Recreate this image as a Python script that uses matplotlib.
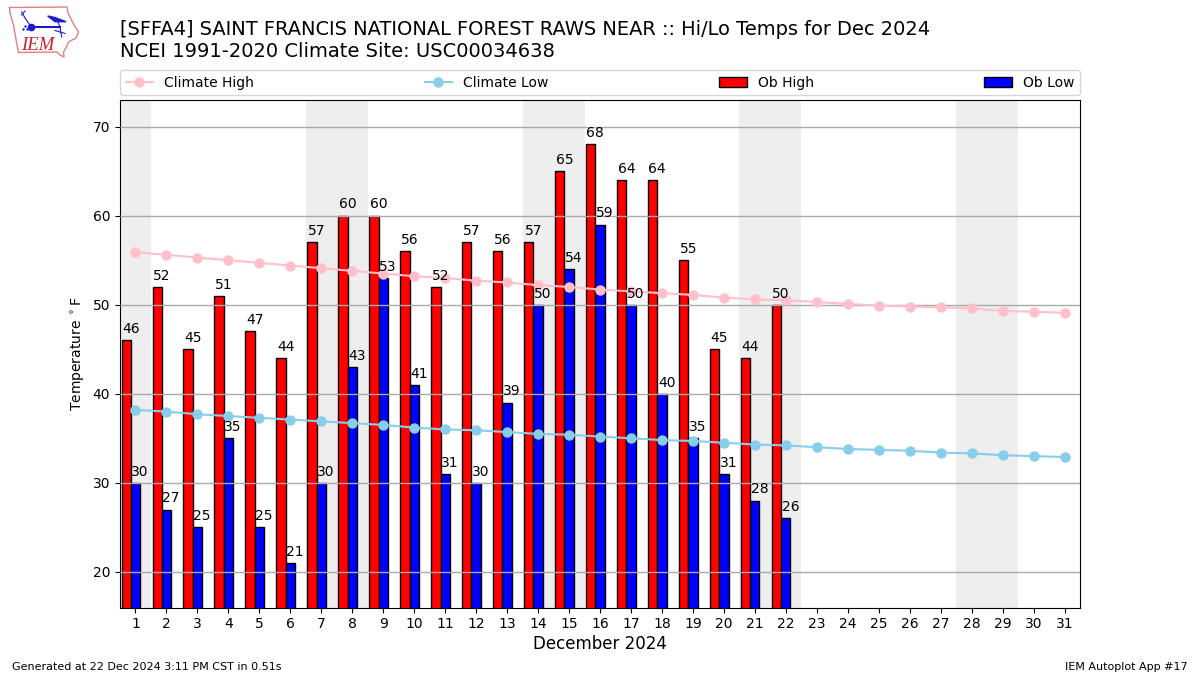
import matplotlib
matplotlib.use("Agg")
import matplotlib.pyplot as plt
import numpy as np

days = list(range(1, 32))
ob_high = [46, 52, 45, 51, 47, 44, 57, 60, 60, 56, 52, 57, 56, 57, 65, 68, 64, 64, 55, 45, 44, 50]
ob_low = [30, 27, 25, 35, 25, 21, 30, 43, 53, 41, 31, 30, 39, 50, 54, 59, 50, 40, 35, 31, 28, 26]
climate_high = [55.9, 55.6, 55.3, 55.0, 54.7, 54.4, 54.1, 53.8, 53.5, 53.2, 53.0, 52.7, 52.5, 52.2, 52.0, 51.7,
                51.5, 51.3, 51.1, 50.8, 50.6, 50.5, 50.3, 50.1, 49.9, 49.8, 49.7, 49.6, 49.3, 49.2, 49.1]
climate_low = [38.2, 38.0, 37.7, 37.5, 37.3, 37.1, 36.9, 36.7, 36.5, 36.2, 36.0, 35.9, 35.7, 35.5, 35.4, 35.2,
               35.0, 34.8, 34.7, 34.5, 34.3, 34.2, 34.0, 33.8, 33.7, 33.6, 33.4, 33.3, 33.1, 33.0, 32.9]
weekends = [(0.5, 1.5), (6.5, 8.5), (13.5, 15.5), (20.5, 22.5), (27.5, 29.5)]

iowa_x = [9.5, 67, 68, 74, 78.5, 76, 68.5, 66.5, 63.5, 64, 60, 57, 18.5, 16.5, 13.5, 10, 9.5]
iowa_y = [7.5, 7, 13, 25, 32, 38, 42, 47, 52, 57, 55, 52, 52.5, 42, 25, 13, 7.5]


def draw_logo(fig):
    # small overlay in pixel coordinates of the picture
    lax = fig.add_axes([0, 1 - 62 / 675, 90 / 1200, 62 / 675])
    lax.set_xlim(0, 90)
    lax.set_ylim(62, 0)
    lax.axis("off")
    lax.plot(iowa_x, iowa_y, color="#e08080", lw=1)
    blue = "#1a1ad0"
    lax.plot([31, 60], [26.7, 26.7], color=blue, lw=1.5)
    lax.plot([31], [26.7], "o", color=blue, ms=4.5)
    lax.plot([31, 25, 21.7], [26.7, 18, 12], color=blue, lw=0.8)
    lax.plot([21.5, 25], [15, 11], color=blue, lw=0.8)
    lax.fill([47.7, 55, 66, 55], [16, 17.5, 21.7, 21.7], color=blue)
    lax.plot([58, 60, 61.7], [22, 27, 37], color=blue, lw=0.8)
    lax.plot([55, 65], [30.5, 33.5], color=blue, lw=0.8)
    lax.plot([23, 25, 27], [29, 26, 29], ".", color=blue, ms=1.5)
    lax.text(37.5, 45, "IEM", color="#d02030", fontsize=13.5, family="Liberation Serif",
             style="italic", ha="center", va="center")


def plot_month():
    fig = plt.figure(figsize=(12, 6.75), dpi=100)
    ax = fig.add_axes([0.1, 0.1, 0.8, 0.752])

    for start, end in weekends:
        ax.axvspan(start, end, color="#eeeeee", lw=0, zorder=0)

    high_days = np.array(days[:len(ob_high)])
    low_days = np.array(days[:len(ob_low)])
    ax.bar(high_days - 0.3, ob_high, width=0.3, color="red", edgecolor="k", linewidth=1,
           label="Ob High", zorder=2)
    ax.bar(low_days, ob_low, width=0.3, color="blue", edgecolor="k", linewidth=1,
           label="Ob Low", zorder=2)
    ax.grid(axis="y", color="#aaaaaa", linewidth=1, zorder=3)
    ax.set_axisbelow(False)

    ax.plot(days, climate_high, "-o", color="pink", ms=6.5, label="Climate High", zorder=4)
    ax.plot(days, climate_low, "-o", color="skyblue", ms=6.5, label="Climate Low", zorder=4)

    for day, val in zip(high_days, ob_high):
        ax.text(day - 0.15, val + 0.47, str(val), ha="center", va="bottom", fontsize=10, zorder=5)
    for day, val in zip(low_days, ob_low):
        ax.text(day + 0.15, val + 0.47, str(val), ha="center", va="bottom", fontsize=10, zorder=5)

    ax.set_xlim(0.5, 31.5)
    ax.set_ylim(16, 73)
    ax.set_xticks(days)
    ax.set_yticks(range(20, 71, 10))
    ax.set_xlabel("December 2024", fontsize=12, labelpad=3)
    ax.set_ylabel(r"Temperature $^\circ$F")

    handles, labels = ax.get_legend_handles_labels()
    order = [labels.index(n) for n in ["Climate High", "Climate Low", "Ob High", "Ob Low"]]
    ax.legend([handles[i] for i in order], [labels[i] for i in order], ncol=4, mode="expand",
              loc="lower left", bbox_to_anchor=(0, 1.0095, 1, 0.05), borderaxespad=0, fontsize=10)

    fig.text(120 / 1200, 1 - 35 / 675, "[SFFA4] SAINT FRANCIS NATIONAL FOREST RAWS NEAR :: Hi/Lo Temps for Dec 2024",
             fontsize=13.97, ha="left", va="baseline")
    fig.text(120 / 1200, 1 - 57 / 675, "NCEI 1991-2020 Climate Site: USC00034638",
             fontsize=14, ha="left", va="baseline")
    fig.text(12 / 1200, 1 - 670 / 675, "Generated at 22 Dec 2024 3:11 PM CST in 0.51s", fontsize=8)
    fig.text(1188 / 1200, 1 - 670 / 675, "IEM Autoplot App #17", fontsize=8, ha="right")

    draw_logo(fig)
    fig.savefig("out.png", dpi=100)


if __name__ == "__main__":
    plot_month()
